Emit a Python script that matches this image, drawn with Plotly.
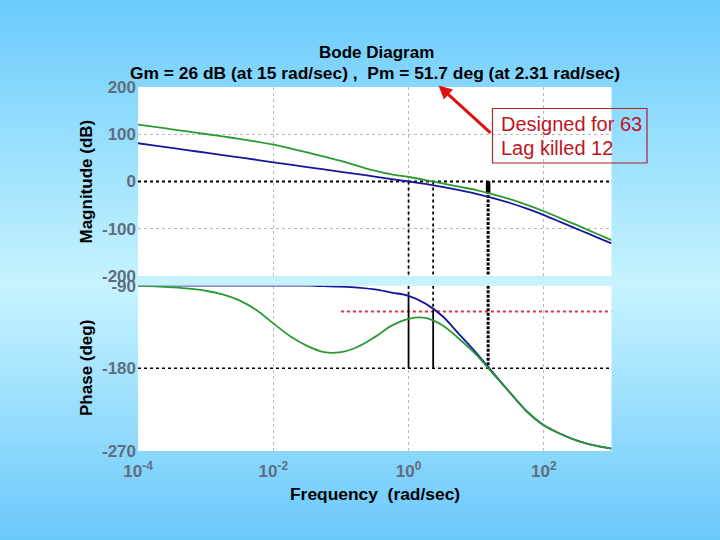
import base64
import plotly.graph_objects as go

# ---------------- data (quarter-decade samples) ----------------
freq = [1e-4, 1.78e-4, 3.16e-4, 5.62e-4, 1e-3, 1.78e-3, 3.16e-3, 5.62e-3,
        1e-2, 1.78e-2, 3.16e-2, 5.62e-2, 0.1, 0.178, 0.316, 0.562,
        1, 1.78, 3.16, 5.62, 10, 17.8, 31.6, 56.2, 100, 178, 316, 562, 1000]
mag_blue = [81, 76, 71, 66, 61, 56, 51, 46,
            40.5, 35.5, 30.5, 25.5, 20.5, 15.5, 10.5, 5,
            0, -5, -11.5, -18.5, -26, -35, -45.5, -57.5, -71, -86, -101, -116, -131]
mag_green = [120.5, 115.5, 110.5, 105.5, 100.5, 95.5, 90, 84.5,
             78, 70, 61.5, 52.5, 43.5, 33, 23, 15,
             9.5, 3, -4, -11, -18, -27, -37.5, -49.5, -63, -78, -93, -108.5, -124]
phase_blue = [-90, -90, -90, -90, -90, -90, -90, -90,
              -90, -90, -90, -90.5, -91, -92, -94, -97.5,
              -101, -109.5, -123, -143, -163, -185, -206.5, -227, -242, -251.5, -259, -264, -267.5]
phase_green = [-90, -90.8, -91.8, -93.2, -95.5, -99.5, -106, -116.5,
               -131, -145, -155.5, -162.3, -162.3, -156.5, -146, -133.5,
               -126, -125, -133, -148, -165, -186, -206.5, -227, -242, -251.5, -259, -264, -267.5]

x_ticks = [1e-4, 1e-2, 1, 1e2]
x_tick_text = ["10<sup>-4</sup>", "10<sup>-2</sup>", "10<sup>0</sup>", "10<sup>2</sup>"]
mag_ticks = [-200, -100, 0, 100, 200]
mag_tick_text = ["-200", "-100", "0", "100", "200"]
phase_ticks = [-270, -180, -90]
phase_tick_text = ["-270", "-180", "-90"]

wc_blue = 1.0          # crossover of blue curve
pm_freq = 2.31         # phase-margin frequency
gm_freq = 15           # gain-margin frequency
gm_db = -26            # magnitude at gm frequency
phase_blue_wc = -101
phase_at_pm = -116.5
design_phase = -118
design_from = 0.1

title1 = "Bode Diagram"
title2 = "Gm = 26 dB (at 15 rad/sec) ,&nbsp; Pm = 51.7 deg (at 2.31 rad/sec)"
xlabel = "Frequency&nbsp; (rad/sec)"
ylabel_mag = "Magnitude (dB)"
ylabel_phase = "Phase (deg)"
note1 = "Designed for 63"
note2 = "Lag killed 12"

# ---------------- figure ----------------
W, H = 720, 540
def px(x): return x / W
def py(y): return 1 - y / H

fig = go.Figure()

def line(x, y, ax, color="black", width=1.5, dash="solid"):
    xa, ya = ("x", "y") if ax == 1 else ("x2", "y2")
    fig.add_trace(go.Scatter(x=x, y=y, xaxis=xa, yaxis=ya, mode="lines",
                             line=dict(color=color, width=width, dash=dash),
                             hoverinfo="skip", showlegend=False))

xmin, xmax = 1e-4, 1e3
# magnitude reference lines
line([xmin, xmax], [0, 0], 1, width=2, dash="dot")
line([wc_blue, wc_blue], [0, -200], 1, width=1.8, dash="dot")
line([pm_freq, pm_freq], [0, -200], 1, width=1.8, dash="dot")
line([gm_freq, gm_freq], [0, -200], 1, width=3, dash="3px,1.5px")
line([gm_freq, gm_freq], [0, gm_db], 1, width=4.5)
# phase reference lines
line([xmin, xmax], [-180, -180], 2, width=1.5, dash="dot")
line([design_from, xmax], [design_phase, design_phase], 2, color="#e0303a", width=2, dash="dot")
line([wc_blue, wc_blue], [-90, phase_blue_wc], 2, width=1.8, dash="dot")
line([wc_blue, wc_blue], [phase_blue_wc, -180], 2, width=1.8)
line([pm_freq, pm_freq], [-90, phase_at_pm], 2, width=1.8, dash="dot")
line([pm_freq, pm_freq], [phase_at_pm, -180], 2, width=1.8)
line([gm_freq, gm_freq], [-90, -180], 2, width=3, dash="3px,1.5px")

blue = "#16169c"
green = "#2a9a32"
for ax, yb, yg in [(1, mag_blue, mag_green), (2, phase_blue, phase_green)]:
    xa, ya = ("x", "y") if ax == 1 else ("x2", "y2")
    fig.add_trace(go.Scatter(x=freq, y=yb, xaxis=xa, yaxis=ya, mode="lines",
                             line=dict(color=blue, width=1.8, shape="spline", smoothing=1.0),
                             hoverinfo="skip", showlegend=False))
    fig.add_trace(go.Scatter(x=freq, y=yg, xaxis=xa, yaxis=ya, mode="lines",
                             line=dict(color=green, width=1.8, shape="spline", smoothing=1.0),
                             hoverinfo="skip", showlegend=False))

xdom = [138 / W, 611.5 / W]
mag_dom = [py(276), py(87)]
ph_dom = [py(451), py(285.7)]
tickfont = dict(family="Liberation Sans", size=17, color="#5e6e7e", weight="bold")
grid = dict(showgrid=True, gridcolor="#b8b8b8", griddash="dot", gridwidth=1,
            zeroline=False, showline=False, ticks="", automargin=False)

fig.update_layout(
    width=W, height=H, margin=dict(l=0, r=0, t=0, b=0, pad=0, autoexpand=False),
    paper_bgcolor="#8fdcff", plot_bgcolor="white",
    xaxis=dict(domain=xdom, anchor="y", type="log", range=[-4, 3],
               tickvals=x_ticks[1:], showticklabels=False, **grid),
    yaxis=dict(domain=mag_dom, anchor="x", range=[-200, 200], tickvals=mag_ticks,
               ticktext=mag_tick_text, tickfont=tickfont, ticklabelstandoff=1, **grid),
    xaxis2=dict(domain=xdom, anchor="y2", type="log", range=[-4, 3],
                tickvals=x_ticks, ticktext=x_tick_text, tickfont=tickfont,
                ticklabelstandoff=8, **grid),
    yaxis2=dict(domain=ph_dom, anchor="x2", range=[-270, -90], tickvals=phase_ticks,
                ticktext=phase_tick_text, tickfont=tickfont, ticklabelstandoff=1, **grid),
)

# background gradient
svg = ('<svg xmlns="http://www.w3.org/2000/svg" width="720" height="540" preserveAspectRatio="none">'
       '<defs><linearGradient id="g" x1="0" y1="0" x2="0" y2="1">'
       '<stop offset="0" stop-color="#6acbfc"/><stop offset="0.53" stop-color="#c6f3ff"/>'
       '<stop offset="1" stop-color="#6ac8fb"/></linearGradient></defs>'
       '<rect width="720" height="540" fill="url(#g)"/></svg>')
src = "data:image/svg+xml;base64," + base64.b64encode(svg.encode()).decode()
fig.add_layout_image(dict(source=src, xref="paper", yref="paper", x=0, y=1, sizex=1, sizey=1,
                          sizing="stretch", xanchor="left", yanchor="top", layer="below"))
# white panels over gradient
for xr, yr in [("x domain", "y domain"), ("x2 domain", "y2 domain")]:
    fig.add_shape(type="rect", xref=xr, yref=yr, x0=0, x1=1, y0=0, y1=1,
                  fillcolor="white", line=dict(width=0), layer="below")

bold = dict(family="Liberation Sans", color="black", weight="bold")
def text(t, x, y, size, font, angle=0, xanchor="center"):
    fig.add_annotation(text=t, x=px(x), y=py(y), xref="paper", yref="paper",
                       xanchor=xanchor, yanchor="middle", showarrow=False,
                       textangle=angle, font=dict(size=size, **font))

text(title1, 376, 52.5, 17, bold)
text(title2, 375, 73.5, 17.4, bold)
text(xlabel, 375, 493.5, 17.4, bold)
text(ylabel_mag, 86, 181.5, 17, bold, angle=-90)
text(ylabel_phase, 86, 368, 17, bold, angle=-90)

# note box and arrow
fig.add_shape(type="rect", xref="paper", yref="paper", x0=px(492.5), x1=px(647),
              y0=py(163), y1=py(108.5), line=dict(color="#b01e28", width=1.2), fillcolor="rgba(0,0,0,0)")
notefont = dict(family="Liberation Sans", color="#c0141e")
text(note1, 499, 123.5, 20, notefont, xanchor="left")
text(note2, 499, 148, 20, notefont, xanchor="left")
fig.add_annotation(text="", x=px(438.5), y=py(85.4), xref="paper", yref="paper",
                   ax=53.5, ay=48.9, showarrow=True, arrowhead=2, arrowsize=0.9,
                   arrowwidth=3, arrowcolor="#e01010", standoff=0)

fig.write_html("out.html", config={"displayModeBar": False},
               post_script="document.body.style.margin='0';document.body.style.overflow='hidden';")
